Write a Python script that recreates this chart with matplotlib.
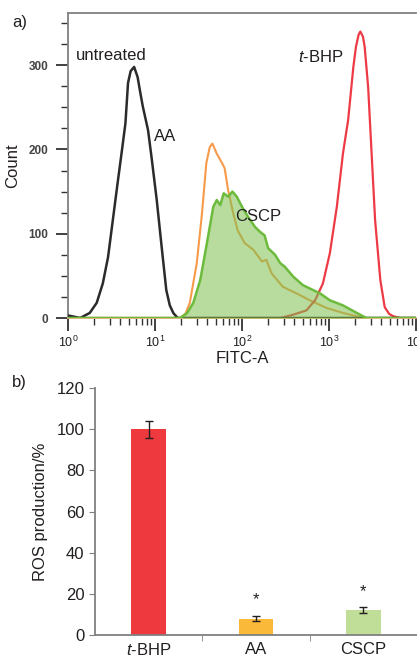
import numpy as np
import matplotlib
matplotlib.use('Agg')
import matplotlib.pyplot as plt
from matplotlib.ticker import FixedLocator, NullFormatter

plt.rcParams['font.family'] = ['Liberation Sans', 'DejaVu Sans']
plt.rcParams['mathtext.fontset'] = 'custom'
plt.rcParams['mathtext.rm'] = 'Liberation Sans'
plt.rcParams['mathtext.it'] = 'Liberation Sans:italic'

# --- panel a: flow cytometry histograms (x in log10 FITC-A, y = count) ---
untreated_x = [0.0, 0.05, 0.14, 0.25, 0.33, 0.40, 0.46, 0.52, 0.57, 0.62, 0.66, 0.69, 0.72,
               0.76, 0.80, 0.83, 0.86, 0.92, 0.96, 1.02, 1.08, 1.13, 1.17, 1.21, 1.26, 4.0]
untreated_y = [3, 2, 0, 6, 18, 41, 72, 120, 160, 199, 231, 279, 293,
               298, 286, 268, 251, 223, 191, 140, 81, 33, 15, 6, 0, 0]

aa_x = [0.0, 1.29, 1.35, 1.40, 1.48, 1.54, 1.59, 1.63, 1.66, 1.71, 1.77, 1.80, 1.84, 1.90, 1.95,
        2.03, 2.13, 2.23, 2.28, 2.34, 2.47, 2.63, 2.78, 2.97, 3.16, 3.32, 3.41, 4.0]
aa_y = [0, 0, 5, 18, 65, 124, 184, 203, 207, 195, 184, 178, 152, 124, 104,
        89, 81, 67, 69, 53, 37, 29, 21, 12, 6, 2, 0, 0]

cscp_x = [0.0, 1.29, 1.37, 1.44, 1.52, 1.59, 1.67, 1.71, 1.75, 1.79, 1.84, 1.89, 1.94, 2.00,
          2.07, 2.15, 2.21, 2.26, 2.30, 2.38, 2.44, 2.49, 2.59, 2.70, 2.82, 2.90,
          3.01, 3.16, 3.32, 3.43, 4.0]
cscp_y = [0, 0, 6, 18, 45, 85, 132, 140, 134, 148, 144, 150, 144, 132,
          120, 108, 102, 98, 83, 75, 65, 61, 49, 39, 33, 29,
          21, 15, 6, 0, 0]

tbhp_x = [0.0, 2.44, 2.59, 2.74, 2.84, 2.93, 3.01, 3.09, 3.16, 3.22, 3.28, 3.31, 3.34, 3.36,
          3.39, 3.41, 3.45, 3.49, 3.53, 3.59, 3.64, 3.69, 3.74, 3.82, 4.0]
tbhp_y = [0, 0, 4, 9, 21, 41, 77, 132, 195, 235, 298, 322, 336, 340,
          334, 322, 274, 195, 116, 45, 13, 5, 2, 0, 0]

# --- panel b: ROS production ---
groups = ['$\\it{t}$-BHP', 'AA', 'CSCP']
ros_mean = [100, 8, 12]
ros_err = [4.2, 1.2, 1.4]
bar_colors = ['#ee3a3e', '#fbb93a', '#c0de98']
star_y = [None, 17, 21]

fig = plt.figure(figsize=(4.17, 6.63), dpi=100)
spine_col = '#808080'
text_col = '#231f20'

# panel a
ax1 = fig.add_axes([68 / 417, 1 - 318 / 663, 348 / 417, 305 / 663])
ax1.plot(10 ** np.array(untreated_x), untreated_y, color='#2b2b2b', lw=1.8, zorder=3)
ax1.plot(10 ** np.array(aa_x), aa_y, color='#f79a4a', lw=1.5, zorder=2)
ax1.plot(10 ** np.array(tbhp_x), tbhp_y, color='#ee3a45', lw=1.6, zorder=2)
ax1.fill_between(10 ** np.array(cscp_x), cscp_y, color='#7cc04f', alpha=0.55, lw=0, zorder=4)
ax1.plot(10 ** np.array(cscp_x), cscp_y, color='#6cbb3c', lw=1.8, zorder=5)
ax1.set_xscale('log')
ax1.set_xlim(1, 1e4)
ax1.set_ylim(0, 362)
ax1.spines['right'].set_visible(False)
for s in ['left', 'top', 'bottom']:
    ax1.spines[s].set_color(spine_col)
    ax1.spines[s].set_linewidth(1.3)
ax1.spines['bottom'].set_color('#d8b070')
ax1.set_yticks([0, 100, 200, 300])
ax1.yaxis.set_minor_locator(FixedLocator([25, 50, 75, 125, 150, 175, 225, 250, 275, 325, 350]))
ax1.set_yticklabels(['0', '100', '200', '300'], fontsize=8.5, fontweight='bold', color='#444444')
ax1.set_xticks([1, 10, 100, 1000, 10000])
ax1.set_xticklabels(['$10^0$', '$10^1$', '$10^2$', '$10^3$', '$10^4$'], fontsize=9, color=text_col)
ax1.xaxis.set_minor_formatter(NullFormatter())
ax1.tick_params(axis='both', which='major', length=9, width=1.3, color='#333333', pad=5)
ax1.tick_params(axis='x', which='major', pad=3)
ax1.tick_params(axis='both', which='minor', length=5, width=1.0, color='#333333')
ax1.set_ylabel('Count', fontsize=12, color=text_col)
ax1.yaxis.set_label_coords(-0.138, 0.5)
ax1.set_xlabel('FITC-A', fontsize=12, color=text_col, labelpad=1)

ax1.text(10 ** 0.5, 312, 'untreated', fontsize=12, color=text_col, ha='center', va='center', zorder=6)
ax1.text(10 ** 1.12, 216, 'AA', fontsize=12, color=text_col, ha='center', va='center', zorder=6)
ax1.text(10 ** 2.19, 120, 'CSCP', fontsize=12, color=text_col, ha='center', va='center', zorder=6)
ax1.text(10 ** 2.9, 310, '$\\it{t}$-BHP', fontsize=12, color=text_col, ha='center', va='center', zorder=6)
fig.text(12 / 417, 1 - 22 / 663, 'a)', fontsize=12, color=text_col, va='center')

# panel b
ax2 = fig.add_axes([95 / 417, 1 - 635 / 663, 322 / 417, 247 / 663])
xpos = np.arange(len(groups))
ax2.bar(xpos, ros_mean, width=0.32, color=bar_colors, yerr=ros_err,
        error_kw=dict(ecolor='#231f20', elinewidth=1.0, capsize=3, capthick=1.0))
for i, sy in enumerate(star_y):
    if sy is not None:
        ax2.text(xpos[i], sy, '*', fontsize=12, ha='center', va='center', color=text_col)
ax2.set_xlim(-0.5, 2.5)
ax2.set_ylim(0, 120)
ax2.set_yticks(np.arange(0, 121, 20))
ax2.set_xticks(xpos)
ax2.set_xticklabels(groups, fontsize=12, color=text_col)
ax2.xaxis.set_minor_locator(FixedLocator([0.5, 1.5]))
ax2.tick_params(axis='x', which='major', length=0, pad=5)
ax2.tick_params(axis='x', which='minor', length=4, color=spine_col)
ax2.tick_params(axis='y', length=4, color=spine_col, labelsize=12, labelcolor=text_col)
for s in ['right', 'top']:
    ax2.spines[s].set_visible(False)
for s in ['left', 'bottom']:
    ax2.spines[s].set_color(spine_col)
    ax2.spines[s].set_linewidth(1.3)
ax2.set_ylabel('ROS production/%', fontsize=12, color=text_col, labelpad=6)
fig.text(12 / 417, 1 - 383 / 663, 'b)', fontsize=12, color=text_col, va='center')

fig.savefig('out.png', dpi=100)
